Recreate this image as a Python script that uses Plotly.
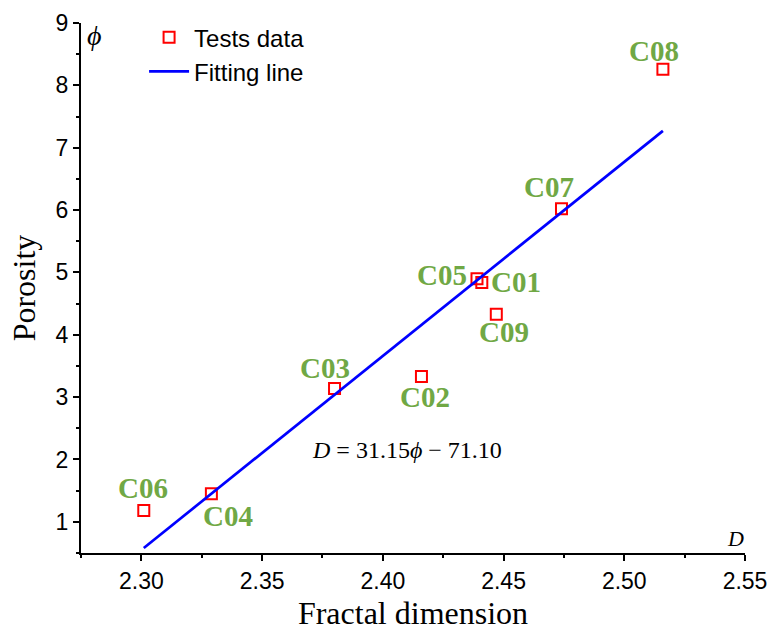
import plotly.graph_objects as go

# ---- data ----
samples = ["C01", "C02", "C03", "C04", "C05", "C06", "C07", "C08", "C09"]
frac_dim = [2.441, 2.416, 2.380, 2.329, 2.439, 2.301, 2.474, 2.516, 2.447]
porosity = [4.84, 3.33, 3.14, 1.45, 4.90, 1.18, 6.02, 8.26, 4.33]
fit_x = [2.301, 2.516]
fit_y = [0.58, 7.27]

# label placement (pixel offsets from each point): xshift, yshift
label_off = {
    "C01": (34, 0), "C02": (4, -20), "C03": (-10, 20), "C04": (17, -22),
    "C05": (-35, 4), "C06": (-1, 23), "C07": (-12, 22), "C08": (-9, 18),
    "C09": (8, -18),
}

green = "#70A845"
serif = "Liberation Serif, Times New Roman, serif"
sans = "Liberation Sans, Arial, sans-serif"

fig = go.Figure()
fig.add_trace(go.Scatter(
    x=frac_dim, y=porosity, mode="markers", name="Tests data",
    marker=dict(symbol="square-open", size=11, color="red", line=dict(width=2, color="red")),
))
fig.add_trace(go.Scatter(
    x=fit_x, y=fit_y, mode="lines", name="Fitting line",
    line=dict(color="blue", width=2.7),
))

for s, xv, yv in zip(samples, frac_dim, porosity):
    dx, dy = label_off[s]
    fig.add_annotation(x=xv, y=yv, text=f"<b>{s}</b>", showarrow=False,
                       xshift=dx, yshift=dy,
                       font=dict(family=serif, size=29, color=green))

fig.add_annotation(x=2.410, y=2.15, xref="x", yref="y", showarrow=False,
                   text="<i>D</i> = 31.15<i>ϕ</i> − 71.10",
                   font=dict(family=serif, size=24, color="black"))
fig.add_annotation(x=0.006, y=1.01, xref="paper", yref="paper", showarrow=False,
                   xanchor="left", yanchor="top",
                   text="<i>ϕ</i>", font=dict(family=serif, size=28, color="black"))
fig.add_annotation(x=0.985, y=0.0, xref="paper", yref="paper", showarrow=False,
                   xanchor="center", yanchor="bottom",
                   text="<i>D</i>", font=dict(family=serif, size=22, color="black"))

axis_common = dict(
    showline=True, linecolor="black", linewidth=2, mirror=False,
    ticks="outside", ticklen=6, tickwidth=2, tickcolor="black",
    showgrid=False, zeroline=False, automargin=False,
    tickfont=dict(family=sans, size=23, color="black"),
)

fig.update_xaxes(range=[2.275, 2.55], tick0=2.30, dtick=0.05, tickformat=".2f",
                 minor=dict(ticks="outside", ticklen=3, tickwidth=2, tickcolor="black",
                            dtick=0.025, tick0=2.275),
                 title=dict(text="Fractal dimension", font=dict(family=serif, size=32, color="black"),
                            standoff=14),
                 **axis_common)
fig.update_yaxes(range=[0.5, 9], tick0=1, dtick=1,
                 minor=dict(ticks="outside", ticklen=3, tickwidth=2, tickcolor="black",
                            dtick=0.5, tick0=0.5),
                 title=dict(text="Porosity", font=dict(family=serif, size=32, color="black"),
                            standoff=10),
                 **axis_common)

fig.update_layout(
    width=768, height=631,
    margin=dict(l=81, r=23, t=23, b=78),
    paper_bgcolor="white", plot_bgcolor="white",
    legend=dict(x=0.095, y=1.015, xanchor="left", yanchor="top",
                bgcolor="rgba(0,0,0,0)",
                font=dict(family=sans, size=24, color="black"),
                tracegroupgap=0, itemwidth=40),
    showlegend=True,
)

fig.write_html("out.html")
